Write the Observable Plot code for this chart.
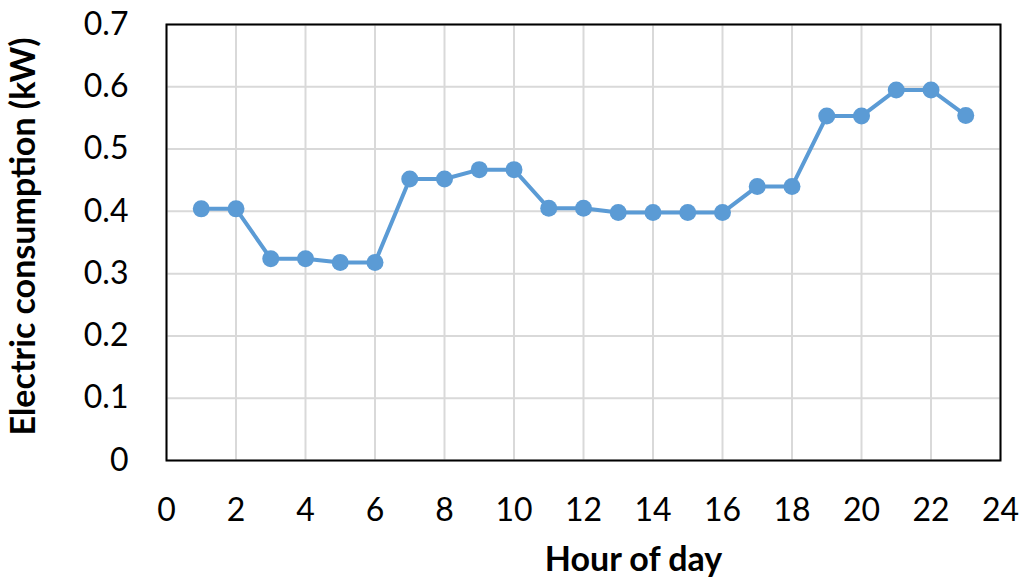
<!DOCTYPE html>
<html>
<head>
<meta charset="utf-8">
<script src="https://cdn.jsdelivr.net/npm/d3@7"></script>
<script src="https://cdn.jsdelivr.net/npm/@observablehq/plot@0.6"></script>
<style>
  html, body { margin: 0; padding: 0; background: #fff; }
  #chart svg { font-family: Lato, "Open Sans", sans-serif; }
</style>
</head>
<body>
<div id="chart"></div>
<script>
const hours = [1,2,3,4,5,6,7,8,9,10,11,12,13,14,15,16,17,18,19,20,21,22,23];
const consumption = [0.404,0.404,0.324,0.324,0.318,0.318,0.452,0.452,0.467,0.467,0.405,0.405,0.398,0.398,0.398,0.398,0.440,0.440,0.553,0.553,0.595,0.595,0.554];
const xTicks = [0,2,4,6,8,10,12,14,16,18,20,22,24];
const yTicks = [0,0.1,0.2,0.3,0.4,0.5,0.6,0.7];
const xTitle = "Hour of day";
const yTitle = "Electric consumption (kW)";

const data = hours.map((h, i) => ({hour: h, kw: consumption[i]}));

const chart = Plot.plot({
  width: 1024,
  height: 585,
  marginLeft: 166,
  marginRight: 24,
  marginTop: 24,
  marginBottom: 125,
  style: {fontSize: "32px", color: "#000", background: "#fff"},
  x: {domain: [0, 24], ticks: xTicks},
  y: {domain: [0, 0.7], ticks: yTicks},
  marks: [
    Plot.gridX(xTicks, {stroke: "#d9d9d9", strokeOpacity: 1, strokeWidth: 2}),
    Plot.gridY(yTicks, {stroke: "#d9d9d9", strokeOpacity: 1, strokeWidth: 2}),
    Plot.frame({stroke: "#000", strokeWidth: 2}),
    Plot.axisX(xTicks, {tickSize: 0, tickPadding: 38, fontSize: 32, label: null}),
    Plot.axisY(yTicks, {tickSize: 0, tickPadding: 38, fontSize: 32, tickFormat: d => d === 0 ? "0" : d3.format(".1f")(d), label: null}),
    Plot.text([xTitle], {text: d => d, frameAnchor: "bottom", textAnchor: "middle", lineAnchor: "middle", dx: 50, dy: 100, fontSize: 34, fontWeight: "bold", fill: "#000"}),
    Plot.text([yTitle], {text: d => d, frameAnchor: "left", textAnchor: "middle", lineAnchor: "middle", rotate: -90, dx: -142, dy: -6, fontSize: 34, fontWeight: "bold", fill: "#000"}),
    Plot.line(data, {x: "hour", y: "kw", stroke: "#5b9bd5", strokeWidth: 4}),
    Plot.dot(data, {x: "hour", y: "kw", fill: "#5b9bd5", r: 8.5})
  ]
});
document.getElementById("chart").appendChild(chart);
</script>
</body>
</html>
